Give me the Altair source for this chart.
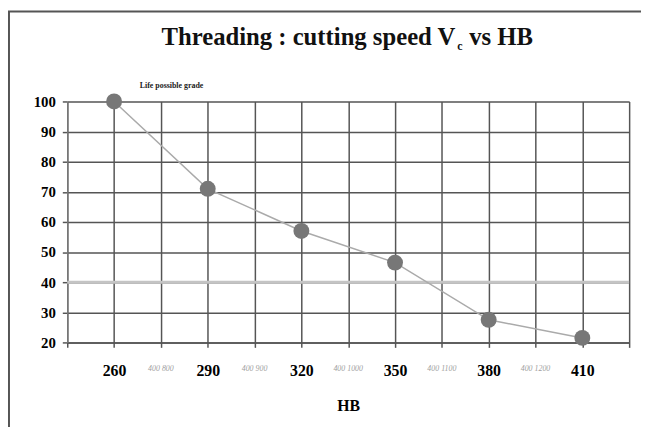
import altair as alt
import pandas as pd

# data
hb = [260, 290, 320, 350, 380, 410]
vc = [100, 71, 57, 46.5, 27.5, 21.5]
minor_hb = [275, 305, 335, 365, 395]
minor_labels = ["400 800", "400 900", "400 1000", "400 1100", "400 1200"]
tick_values = [245, 260, 275, 290, 305, 320, 335, 350, 365, 380, 395, 410, 425]
y_values = [20, 30, 40, 50, 60, 70, 80, 90, 100]
highlight_y = [40]
note_text = "Life possible grade"
title_main = "Threading : cutting speed V"
title_sub = "c"
title_tail = "vs HB"

W, H = 569, 244
FONT = "Liberation Serif"

df = pd.DataFrame({"HB": hb, "Vc": vc})
minor_df = pd.DataFrame({"HB": minor_hb, "lab": minor_labels})
hl_df = pd.DataFrame({"y": highlight_y})
one = alt.Data(values=[{"a": 1}])

xscale = alt.Scale(domain=[245, 425], nice=False, zero=False)
yscale = alt.Scale(domain=[20, 100], nice=False, zero=False)

xaxis = alt.Axis(
    values=tick_values,
    labelExpr="(datum.value - 260) % 30 == 0 && datum.value >= 260 && datum.value <= 410 ? datum.label : ''",
    title="HB",
    titleFont=FONT, titleFontSize=16, titleFontWeight="bold", titleColor="black",
    titlePadding=20,
    labelFont=FONT, labelFontSize=16, labelFontWeight="bold", labelColor="black",
    labelPadding=15, tickSize=5, tickColor="#555", tickWidth=1.5,
    grid=True, gridColor="#555", gridWidth=1.5,
    domain=True, domainColor="#555", domainWidth=1.5,
    labelOverlap=False,
)
yaxis = alt.Axis(
    values=y_values,
    title=None,
    labelFont=FONT, labelFontSize=15, labelFontWeight="bold", labelColor="black",
    labelPadding=7, tickSize=5, tickColor="#555", tickWidth=1.5,
    grid=True, gridColor="#555", gridWidth=1.5,
    domain=True, domainColor="#777", domainWidth=1.5,
    labelOverlap=False, tickCount=9,
)

base = alt.Chart(df)

line = base.mark_line(color="#aaaaaa", strokeWidth=1.5).encode(
    x=alt.X("HB:Q", scale=xscale, axis=xaxis),
    y=alt.Y("Vc:Q", scale=yscale, axis=yaxis),
)

hl = alt.Chart(hl_df).mark_rule(color="#c4c4c4", strokeWidth=3).encode(
    y=alt.Y("y:Q", scale=yscale, axis=yaxis),
    x=alt.value(0), x2=alt.value(W),
)

points = base.mark_circle(size=260, color="#777777", opacity=1).encode(
    x=alt.X("HB:Q", scale=xscale, axis=xaxis),
    y=alt.Y("Vc:Q", scale=yscale, axis=yaxis),
)

minor = alt.Chart(minor_df).mark_text(
    font=FONT, fontSize=8, fontStyle="italic", color="#a0a0a0", baseline="middle"
).encode(
    x=alt.X("HB:Q", scale=xscale, axis=xaxis),
    y=alt.value(H + 27),
    text="lab:N",
)

note = alt.Chart(pd.DataFrame({"HB": [hb[0]], "Vc": [vc[0]], "t": [note_text]})).mark_text(
    font=FONT, fontSize=8, fontWeight="bold", color="#222", align="left", dx=26, dy=-16
).encode(
    x=alt.X("HB:Q", scale=xscale, axis=xaxis),
    y=alt.Y("Vc:Q", scale=yscale, axis=yaxis),
    text="t:N",
)

t1 = alt.Chart(one).mark_text(
    font=FONT, fontSize=25, fontWeight="bold", color="#111", align="right", baseline="alphabetic"
).encode(x=alt.value(393), y=alt.value(-57), text=alt.value(title_main))
t2 = alt.Chart(one).mark_text(
    font=FONT, fontSize=12, fontWeight="bold", color="#111", align="left", baseline="alphabetic"
).encode(x=alt.value(395), y=alt.value(-52), text=alt.value(title_sub))
t3 = alt.Chart(one).mark_text(
    font=FONT, fontSize=25, fontWeight="bold", color="#111", align="left", baseline="alphabetic"
).encode(x=alt.value(407), y=alt.value(-57), text=alt.value(title_tail))

frame = alt.Chart(one).mark_rect(fill="transparent", stroke="#555", strokeWidth=2).encode(
    x=alt.value(-59), y=alt.value(-91), x2=alt.value(W + 200), y2=alt.value(H + 200)
)

chart = alt.layer(frame, hl, line, points, minor, note, t1, t2, t3).properties(
    width=W, height=H,
    autosize=alt.AutoSizeParams(type="none"),
    padding={"left": 60, "top": 92, "right": 12, "bottom": 83},
    background="white",
).configure_view(strokeWidth=0)

chart.save("out.html", embed_options={"renderer": "svg", "actions": False})
